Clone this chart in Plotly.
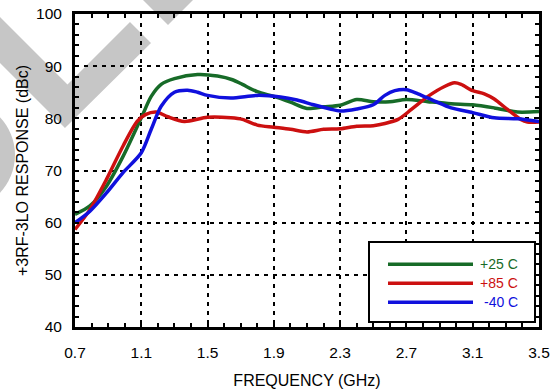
import plotly.graph_objects as go

# ---- data -------------------------------------------------------------
freq_ticks = [0.7, 1.1, 1.5, 1.9, 2.3, 2.7, 3.1, 3.5]
freq_labels = ["0.7", "1.1", "1.5", "1.9", "2.3", "2.7", "3.1", "3.5"]
resp_ticks = [40, 50, 60, 70, 80, 90, 100]

series_names = ["+25 C", "+85 C", "-40 C"]
series_colors = ["#176b28", "#cc1010", "#1010dd"]

f_25c = [0.70, 0.79, 0.89, 0.99, 1.10, 1.16, 1.22, 1.30, 1.44, 1.56, 1.65, 1.71,
         1.80, 1.90, 2.00, 2.10, 2.20, 2.30, 2.40, 2.50, 2.60, 2.70, 2.83, 2.97,
         3.10, 3.23, 3.37, 3.50]
r_25c = [61.6, 63.2, 67.0, 72.7, 80.1, 84.2, 86.5, 87.6, 88.4, 88.1, 87.4, 86.5,
         85.1, 84.2, 83.1, 81.9, 82.2, 82.5, 83.6, 83.2, 83.2, 83.6, 83.2, 82.8,
         82.6, 82.0, 81.2, 81.3]

f_85c = [0.70, 0.79, 0.89, 0.99, 1.075, 1.125, 1.19, 1.26, 1.36, 1.50, 1.64, 1.71,
         1.80, 1.90, 2.00, 2.10, 2.20, 2.30, 2.40, 2.50, 2.57, 2.65, 2.73, 2.83,
         2.93, 2.99, 3.03, 3.10, 3.17, 3.23, 3.31, 3.39, 3.43, 3.50]
r_85c = [58.7, 62.5, 68.3, 74.7, 79.4, 80.7, 81.2, 80.3, 79.4, 80.2, 80.1, 79.8,
         78.7, 78.3, 77.9, 77.4, 77.9, 78.0, 78.5, 78.6, 79.0, 79.8, 81.7, 84.2,
         86.1, 86.8, 86.5, 85.3, 84.7, 83.7, 81.7, 79.8, 79.3, 79.3]

f_m40c = [0.70, 0.79, 0.89, 0.99, 1.10, 1.16, 1.22, 1.30, 1.38, 1.44, 1.50, 1.64,
          1.80, 1.94, 2.04, 2.14, 2.24, 2.30, 2.40, 2.50, 2.57, 2.63, 2.70, 2.77,
          2.87, 2.97, 3.10, 3.23, 3.37, 3.50]
r_m40c = [60.0, 62.2, 65.7, 69.6, 73.4, 77.9, 82.3, 85.0, 85.4, 85.0, 84.4, 83.9,
          84.4, 84.1, 83.5, 82.6, 81.8, 81.4, 81.8, 82.6, 84.4, 85.3, 85.5, 84.7,
          83.3, 82.0, 81.1, 80.1, 79.9, 79.4]

freqs = [f_25c, f_85c, f_m40c]
resps = [r_25c, r_85c, r_m40c]

# ---- layout geometry ----------------------------------------------------
W, H = 557, 391
M = dict(l=75, r=18, t=14, b=64)
PW = W - M["l"] - M["r"]
PH = H - M["t"] - M["b"]


def to_paper(x, y):
    """Convert page pixel position to paper coordinates."""
    return (x - M["l"]) / PW, (H - M["b"] - y) / PH


def path_from(points):
    pts = [to_paper(x, y) for x, y in points]
    return "M " + " L ".join(f"{a:.4f},{b:.4f}" for a, b in pts) + " Z"


FONT = "Liberation Sans, Arial, sans-serif"
MARK_GRAY = "#c6c6c6"

fig = go.Figure()
for name, color, fx, ry in zip(series_names, series_colors, freqs, resps):
    fig.add_trace(go.Scatter(
        x=fx, y=ry, name=name, mode="lines",
        line=dict(color=color, width=3.5, shape="spline", smoothing=0.8),
        showlegend=False,
    ))

shapes = []
# faint background watermark strokes
shapes.append(dict(type="path", xref="paper", yref="paper", layer="below",
                   path=path_from([(-5, 12), (67.5, 84.5), (130, 22), (151, 43),
                                   (65, 128), (-5, 58)]),
                   fillcolor=MARK_GRAY, line=dict(width=0)))
shapes.append(dict(type="path", xref="paper", yref="paper", layer="below",
                   path=path_from([(118, -25), (168, 25), (218, -25)]),
                   fillcolor=MARK_GRAY, line=dict(width=0)))
cx0, cy0 = to_paper(-95, 100)
cx1, cy1 = to_paper(15, 210)
shapes.append(dict(type="circle", xref="paper", yref="paper", layer="below",
                   x0=cx0, y0=cy0, x1=cx1, y1=cy1,
                   fillcolor=MARK_GRAY, line=dict(width=0)))

# legend box
bx0, by0 = to_paper(369, 242)
bx1, by1 = to_paper(535, 322)
shapes.append(dict(type="rect", xref="paper", yref="paper", layer="above",
                   x0=bx0, y0=by0, x1=bx1, y1=by1,
                   fillcolor="white", line=dict(color="black", width=2)))
annotations = []
for i, (name, color) in enumerate(zip(series_names, series_colors)):
    yy = 264.3 + 19 * i
    lx0, ly = to_paper(388, yy)
    lx1, _ = to_paper(473, yy)
    shapes.append(dict(type="line", xref="paper", yref="paper", layer="above",
                       x0=lx0, y0=ly, x1=lx1, y1=ly,
                       line=dict(color=color, width=3.5)))
    tx, _ = to_paper(520, yy)
    annotations.append(dict(xref="paper", yref="paper", x=tx, y=ly,
                            text=name, showarrow=False, xanchor="right",
                            yanchor="middle",
                            font=dict(family=FONT, size=14, color=color)))

axis_common = dict(
    showgrid=True, gridcolor="black", gridwidth=1.6, griddash="4px,5px",
    showline=True, linecolor="black", linewidth=3, mirror="allticks",
    ticks="inside", ticklen=4, tickwidth=1.5, tickcolor="black",
    zeroline=False, automargin=False,
    tickfont=dict(family=FONT, size=15.5, color="black"),
)

fig.update_layout(
    width=W, height=H, margin=M,
    paper_bgcolor="white", plot_bgcolor="white",
    shapes=shapes, annotations=annotations,
    xaxis=dict(range=[0.7, 3.5], tickvals=freq_ticks, ticktext=freq_labels,
               ticklabelstandoff=9,
               minor=dict(dtick=0.1, tick0=0.7, ticks="inside", ticklen=4,
                          tickwidth=1.5, tickcolor="black", showgrid=False),
               title=dict(text="FREQUENCY (GHz)", standoff=16,
                          font=dict(family=FONT, size=16, color="black")),
               **axis_common),
    yaxis=dict(range=[40, 100], tickvals=resp_ticks,
               ticklabelstandoff=7,
               minor=dict(dtick=2, tick0=40, ticks="inside", ticklen=4,
                          tickwidth=1.5, tickcolor="black", showgrid=False),
               title=dict(text="+3RF-3LO RESPONSE (dBc)", standoff=4,
                          font=dict(family=FONT, size=16, color="black")),
               **axis_common),
)

fig.write_html("out.html")
